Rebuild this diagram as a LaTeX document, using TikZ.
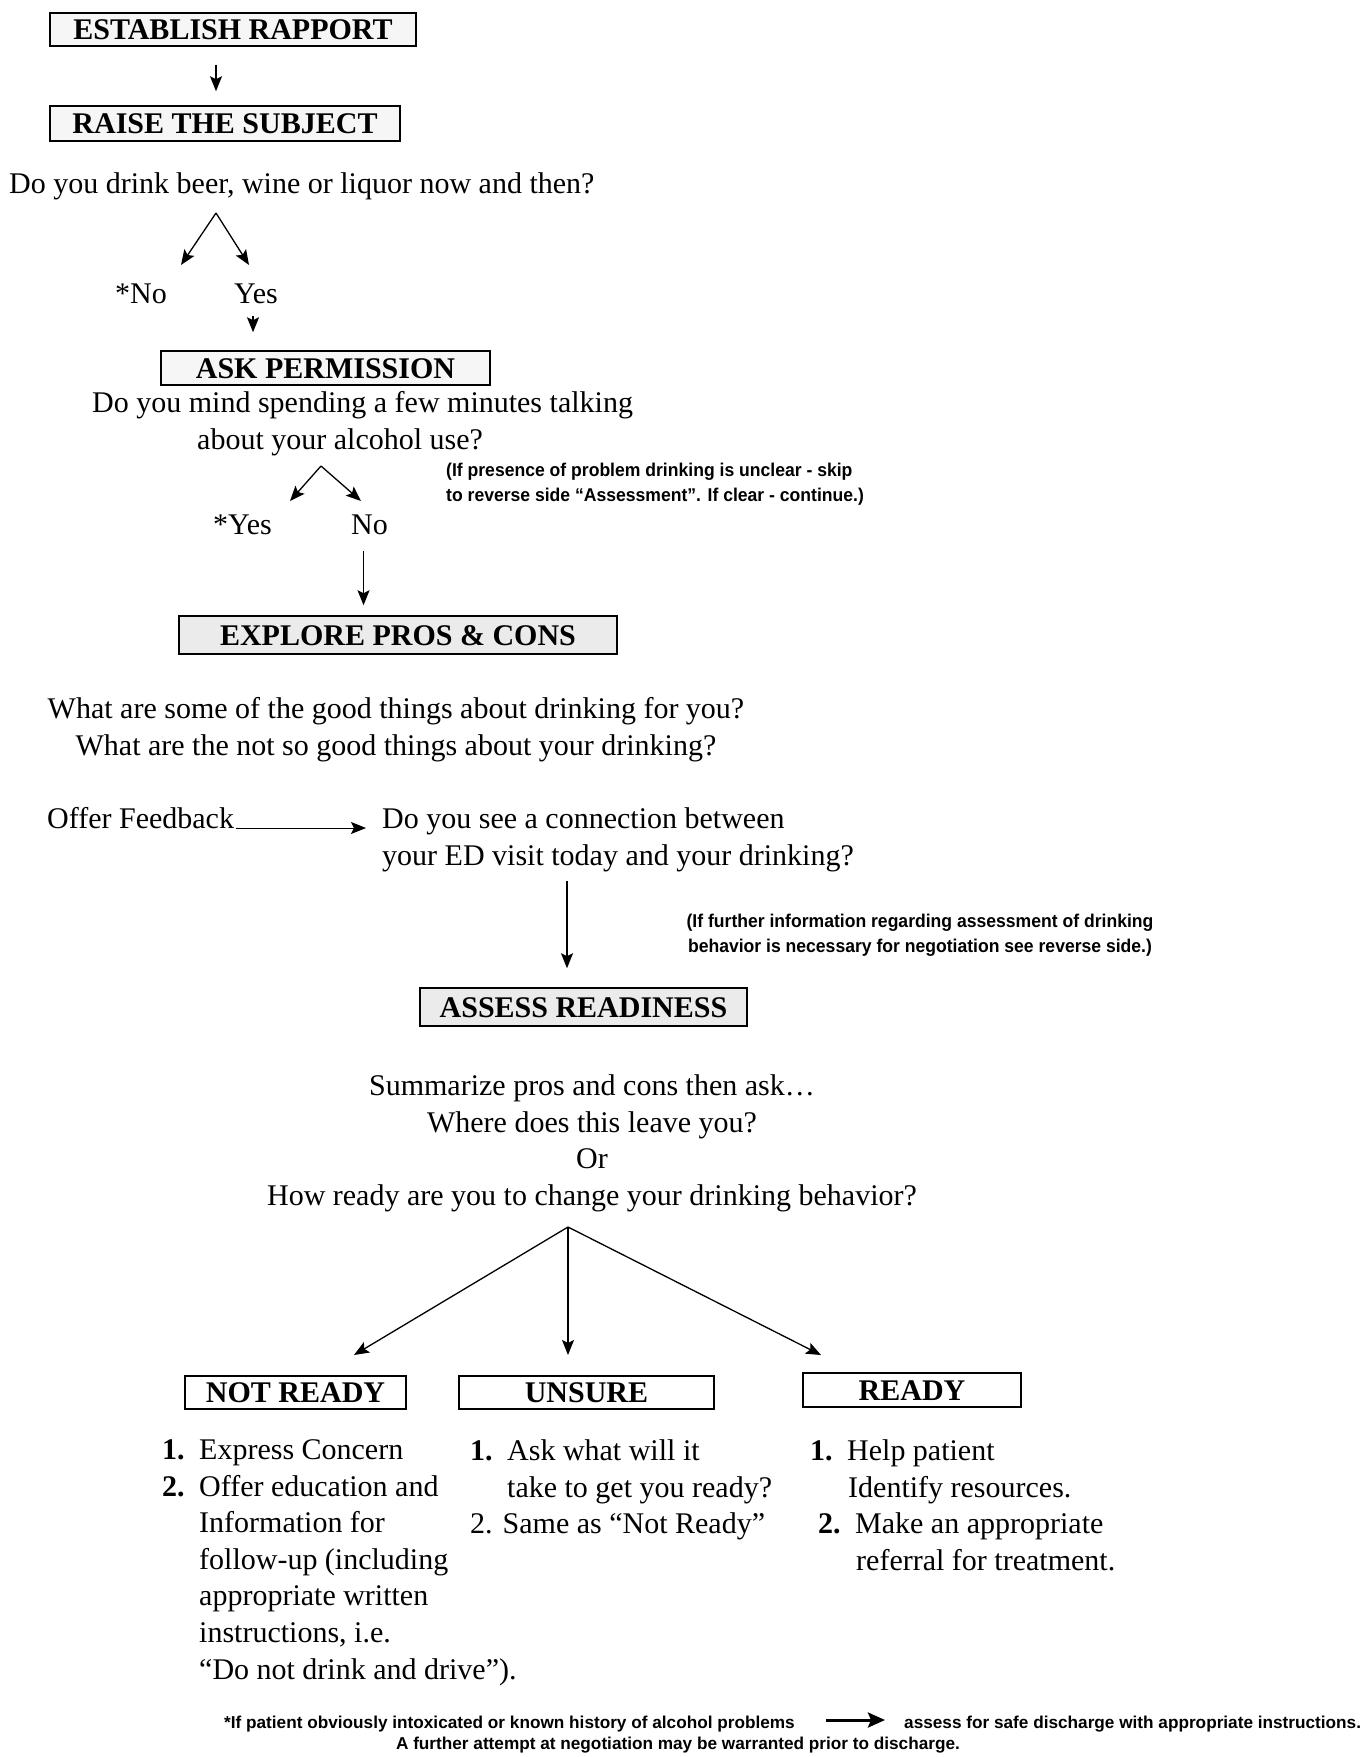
\documentclass[tikz,border=0pt]{standalone}
\usepackage{fontspec}
\setmainfont{Liberation Serif}
\newfontfamily\notefont[Ligatures=TeX, FakeStretch=0.95]{Liberation Sans}
\newfontfamily\fnfont[Ligatures=TeX]{Liberation Sans}
\usetikzlibrary{arrows.meta, positioning}
\tikzset{
    >={Stealth[length=15pt,width=12pt,inset=3pt]},
    titlebox/.style={draw, line width=1.5pt, fill=gray!7, inner sep=0pt,
        font=\bfseries\fontsize{30}{36}\selectfont, text height=20pt, text depth=0pt},
    shadebox/.style={titlebox, fill=gray!16},
    plainbox/.style={titlebox, fill=white},
    body/.style={inner sep=0pt, font=\fontsize{30}{36.6}\selectfont},
    note/.style={inner sep=0pt, font=\notefont\bfseries\fontsize{18.5}{25}\selectfont},
    footnote/.style={inner sep=0pt, font=\fnfont\bfseries\fontsize{17.2}{21}\selectfont},
    every edge/.style={
        draw,
        ->,
        line width=1.3pt
    }
}
\newcommand{\itemno}[1]{\makebox[37pt][l]{\textbf{#1}}}

\begin{document}
\begin{tikzpicture}[x=1pt,y=-1pt]
	\useasboundingbox (0,0) rectangle (1370,1757);
	% boxes
	\node[titlebox, minimum width=366pt, minimum height=33pt] at (233,29.5) (rapport) {ESTABLISH RAPPORT};
	\node[titlebox, minimum width=350pt, minimum height=35pt] at (225,123.5) (raise) {RAISE THE SUBJECT};
	\node[titlebox, minimum width=329pt, minimum height=34pt] at (325.5,368) (ask) {ASK PERMISSION};
	\node[shadebox, minimum width=438pt, minimum height=38pt] at (398,635) (explore) {EXPLORE PROS \& CONS};
	\node[shadebox, minimum width=327pt, minimum height=38pt] at (583.5,1007) (assess) {ASSESS READINESS};
	\node[plainbox, minimum width=221pt, minimum height=33pt] at (295.5,1392.5) (notready) {NOT READY};
	\node[plainbox, minimum width=255pt, minimum height=33pt] at (586.5,1392.5) (unsure) {UNSURE};
	\node[plainbox, minimum width=218pt, minimum height=34pt] at (912,1390) (ready) {READY};
	% questions and answers
	\node[body, anchor=base west] at (9,193) (drink) {Do you drink beer, wine or liquor now and then?};
	\node[body, anchor=base west] at (115,303) (drinkno) {*No};
	\node[body, anchor=base west] at (234,303) (drinkyes) {Yes};
	\node[body, anchor=base west] at (92,412) (mindA) {Do you mind spending a few minutes talking};
	\node[body, anchor=base west] at (197,449) (mindB) {about your alcohol use?};
	\node[body, anchor=base west] at (213,534) (mindyes) {*Yes};
	\node[body, anchor=base west] at (351,534) (mindno) {No};
	\node[note, anchor=north west, align=left] at (446,463) (skipnote)
		{(If presence of problem drinking is unclear - skip\\to reverse side ``Assessment''. If clear - continue.)};
	\node[body, anchor=north, align=center] at (396,697.5) (goodbad)
		{What are some of the good things about drinking for you?\\What are the not so good things about your drinking?};
	\node[body, anchor=base west] at (47,828) (feedback) {Offer Feedback};
	\node[body, anchor=north west, align=left] at (382,807.5) (link)
		{Do you see a connection between\\your ED visit today and your drinking?};
	\node[note, anchor=north, align=center] at (920,914) (infonote)
		{(If further information regarding assessment of drinking\\behavior is necessary for negotiation see reverse side.)};
	\node[body, anchor=north, align=center] at (592,1074.5) (summary)
		{Summarize pros and cons then ask\ldots\\Where does this leave you?\\Or\\How ready are you to change your drinking behavior?};
	% lists
	\node[body, anchor=north west, align=left] at (162,1439.5) (nrlist)
		{\itemno{1.}Express Concern\\\itemno{2.}Offer education and\\\hspace*{37pt}Information for\\
		 \hspace*{37pt}follow-up (including\\\hspace*{37pt}appropriate written\\\hspace*{37pt}instructions, i.e.\\
		 \hspace*{37pt}``Do not drink and drive'').};
	\node[body, anchor=north west, align=left] at (470,1439.5) (unlist)
		{\itemno{1.}Ask what will it\\\hspace*{37pt}take to get you ready?\\2. Same as ``Not Ready''};
	\node[body, anchor=north west, align=left] at (810,1439.5) (rdlist)
		{\itemno{1.}Help patient\\\hspace*{38pt}Identify resources.\\\hspace*{8pt}\itemno{2.}Make an appropriate\\
		 \hspace*{46pt}referral for treatment.};
	% footnote
	\node[footnote, anchor=base west] at (224,1728) (fnleft) {*If patient obviously intoxicated or known history of alcohol problems};
	\node[footnote, anchor=base west] at (904,1728) (fnright) {assess for safe discharge with appropriate instructions.};
	\node[footnote, anchor=base] at (678,1749) (fnlast) {A further attempt at negotiation may be warranted prior to discharge.};
	% forks
	\coordinate (drinkfork) at (216,213);
	\coordinate (drinknotip) at (181,265);
	\coordinate (drinkyestip) at (249,265);
	\coordinate (mindfork) at (321,466);
	\coordinate (mindyestip) at (290,501);
	\coordinate (mindnotip) at (361,501);
	\coordinate (readyfork) at (568,1227);
	\coordinate (nrtip) at (354,1355);
	\coordinate (untip) at (568,1355);
	\coordinate (rdtip) at (821,1355);
	\draw
	([xshift=-17pt]rapport.south) edge[shorten <=18pt, shorten >=14pt] ([xshift=-17pt]rapport.south |- raise.north)
	(drinkfork) edge (drinknotip)
	(drinkfork) edge (drinkyestip)
	([xshift=-3pt]drinkyes.south) edge[shorten <=12pt, shorten >=18pt] ([xshift=-3pt]drinkyes.south |- ask.north)
	(mindfork) edge (mindyestip)
	(mindfork) edge (mindnotip)
	([xshift=-6pt]mindno.south) edge[shorten <=16pt, shorten >=10pt] ([xshift=-6pt]mindno.south |- explore.north)
	(feedback.base east) edge[line width=1pt, shorten <=2pt, shorten >=16pt] (feedback.base east -| link.west)
	([xshift=-16.5pt]assess.north |- link.south) edge[shorten <=9pt, shorten >=19pt] ([xshift=-16.5pt]assess.north)
	(readyfork) edge (nrtip)
	(readyfork) edge (untip)
	(readyfork) edge (rdtip);
	\draw[line width=3pt, -{Stealth[length=17pt,width=15pt,inset=3pt]}]
	([xshift=-78pt,yshift=8pt]fnright.base west) -- ([xshift=-19pt,yshift=8pt]fnright.base west);
\end{tikzpicture}
\end{document}
